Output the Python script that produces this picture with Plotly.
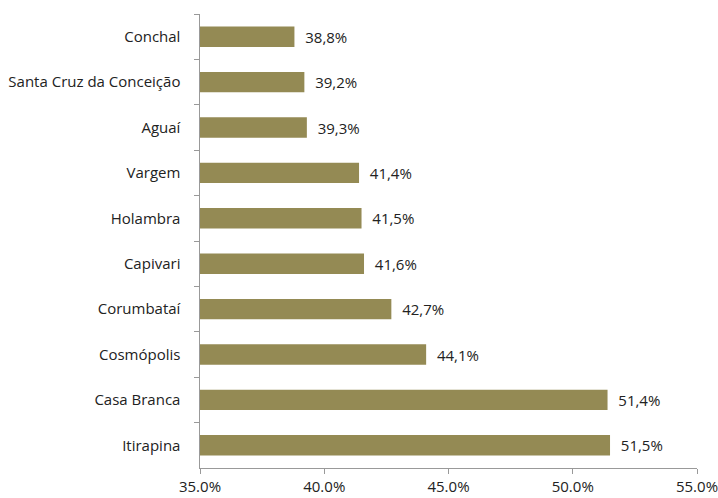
import plotly.graph_objects as go

# Municipalities (top to bottom) and their percentages
municipios = ["Conchal", "Santa Cruz da Conceição", "Aguaí", "Vargem", "Holambra",
              "Capivari", "Corumbataí", "Cosmópolis", "Casa Branca", "Itirapina"]
valores = [38.8, 39.2, 39.3, 41.4, 41.5, 41.6, 42.7, 44.1, 51.4, 51.5]

x_ticks = [35, 40, 45, 50, 55]
x_tick_labels = ["35.0%", "40.0%", "45.0%", "50.0%", "55.0%"]

eixo_base = 35
rotulos = ["  " + f"{v:.1f}%".replace(".", ",") for v in valores]

FONTE = "Open Sans, sans-serif"
TAM = 15

fig = go.Figure(go.Bar(
    y=municipios,
    x=[v - eixo_base for v in valores],
    base=eixo_base,
    orientation="h",
    marker=dict(color="#948A54", line=dict(width=0)),
    width=0.45,
    text=rotulos,
    textposition="outside",
    textfont=dict(family=FONTE, size=TAM, color="#222222"),
    cliponaxis=False,
    hovertemplate="%{y}: %{text}<extra></extra>",
))

fig.update_layout(
    width=718, height=498,
    margin=dict(l=200, r=21, t=14, b=30),
    plot_bgcolor="white", paper_bgcolor="white",
    showlegend=False,
    font=dict(family=FONTE, size=TAM, color="#222222"),
    xaxis=dict(
        range=[35, 55],
        tickvals=x_ticks,
        ticktext=x_tick_labels,
        ticks="outside", ticklen=5, tickcolor="#999999",
        showgrid=False, zeroline=False,
        showline=True, linecolor="#999999", linewidth=1,
        automargin=False,
        ticklabeloverflow="allow",
        tickfont=dict(family=FONTE, size=TAM, color="#222222"),
    ),
    yaxis=dict(
        autorange="reversed",
        categoryorder="array", categoryarray=municipios,
        ticks="outside", ticklen=5, tickcolor="#999999",
        tickson="boundaries",
        showline=True, linecolor="#999999", linewidth=1,
        showgrid=False, zeroline=False,
        automargin=False,
        ticksuffix="    ",
        tickfont=dict(family=FONTE, size=TAM, color="#222222"),
    ),
)

fig.write_html("out.html")
